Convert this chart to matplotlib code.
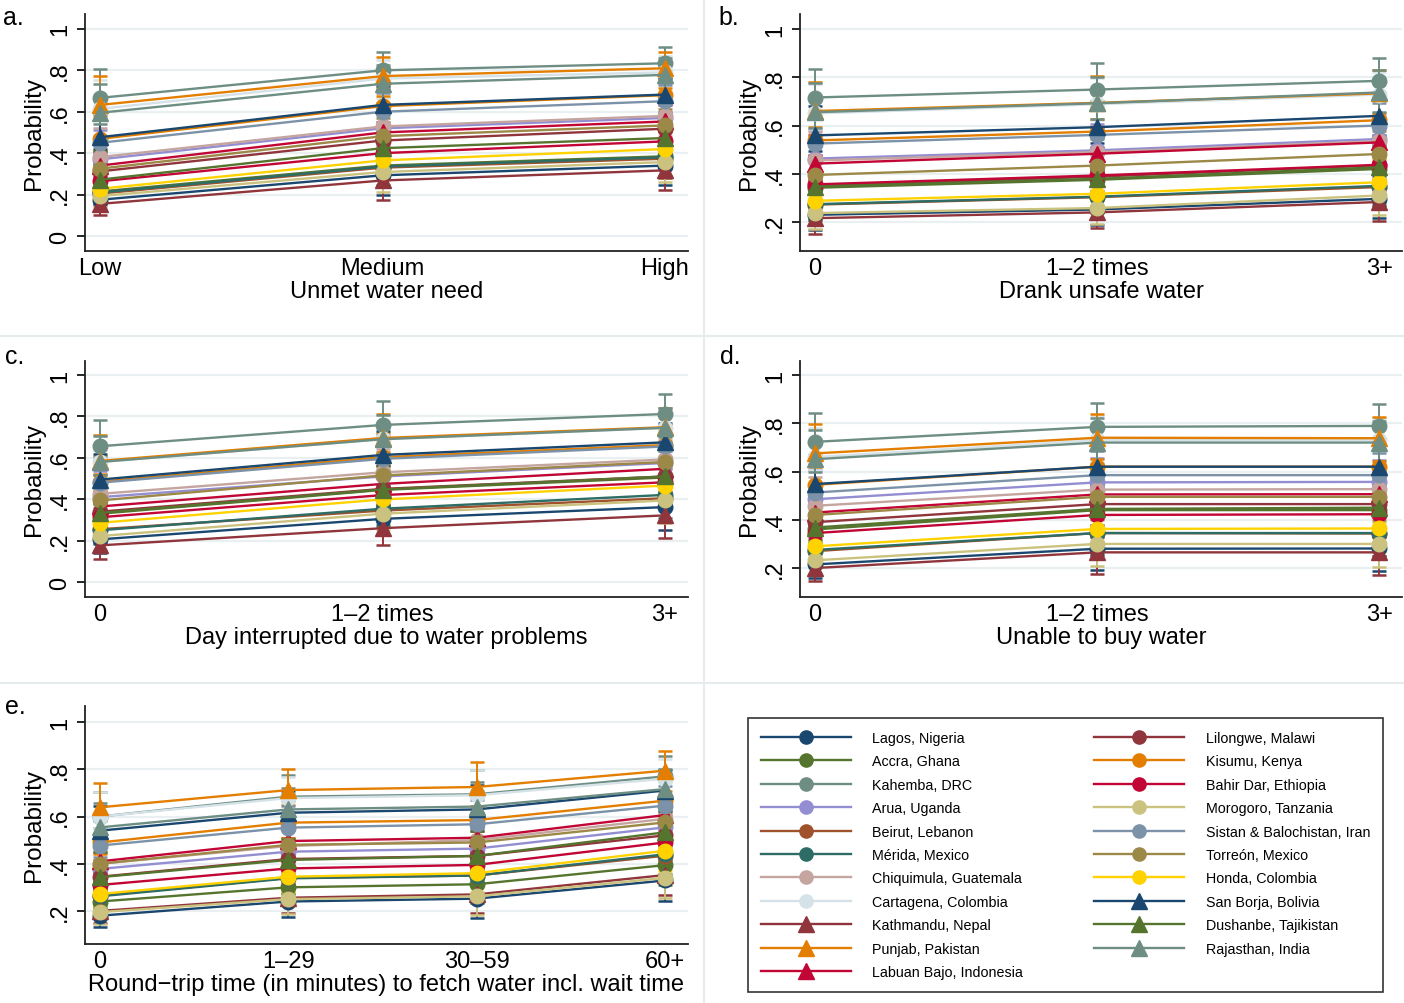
import matplotlib
matplotlib.use("Agg")
import matplotlib.pyplot as plt
from matplotlib.lines import Line2D
import numpy as np

plt.rcParams['font.family'] = ['Liberation Sans', 'DejaVu Sans']

# Sites (legend order, also drawing order)
sites = ["Lagos, Nigeria", "Accra, Ghana", "Kahemba, DRC", "Arua, Uganda",
         "Beirut, Lebanon", "Mérida, Mexico", "Chiquimula, Guatemala",
         "Cartagena, Colombia", "Kathmandu, Nepal", "Punjab, Pakistan",
         "Labuan Bajo, Indonesia", "Lilongwe, Malawi", "Kisumu, Kenya",
         "Bahir Dar, Ethiopia", "Morogoro, Tanzania", "Sistan & Balochistan, Iran",
         "Torreón, Mexico", "Honda, Colombia", "San Borja, Bolivia",
         "Dushanbe, Tajikistan", "Rajasthan, India"]
cores = ["#1a476f", "#55752f", "#6e8e84", "#938dd2", "#a0522d", "#2d6d66",
         "#c4a59f", "#d5e2e8", "#90353b", "#e37e00", "#c10534", "#90353b",
         "#e37e00", "#c10534", "#cac27e", "#7b92a8", "#9c8847", "#ffd200",
         "#1a476f", "#55752f", "#6e8e84"]
marcadores = ["o"] * 8 + ["^"] * 3 + ["o"] * 7 + ["^"] * 3

# Categorias de cada painel
cat_a = ["Low", "Medium", "High"]
cat_b = ["0", "1\u20132 times", "3+"]
cat_c = ["0", "1\u20132 times", "3+"]
cat_d = ["0", "1\u20132 times", "3+"]
cat_e = ["0", "1\u201329", "30\u201359", "60+"]

# Probabilidades previstas (linhas = sites)
prob_a = [[0.175, 0.293, 0.340], [0.215, 0.340, 0.385], [0.667, 0.800, 0.834],
          [0.370, 0.520, 0.570], [0.205, 0.330, 0.373], [0.210, 0.335, 0.380],
          [0.381, 0.529, 0.580], [0.614, 0.760, 0.790], [0.155, 0.268, 0.317],
          [0.633, 0.772, 0.810], [0.340, 0.500, 0.553], [0.312, 0.461, 0.518],
          [0.469, 0.627, 0.680], [0.264, 0.400, 0.457], [0.193, 0.309, 0.357],
          [0.450, 0.600, 0.651], [0.325, 0.482, 0.534], [0.228, 0.365, 0.420],
          [0.477, 0.633, 0.683], [0.272, 0.424, 0.473], [0.595, 0.735, 0.778]]
prob_b = [[0.230, 0.252, 0.296], [0.342, 0.375, 0.420], [0.716, 0.749, 0.785],
          [0.463, 0.497, 0.544], [0.272, 0.303, 0.345], [0.274, 0.305, 0.350],
          [0.455, 0.490, 0.535], [0.650, 0.688, 0.728], [0.216, 0.240, 0.283],
          [0.660, 0.694, 0.733], [0.442, 0.483, 0.530], [0.350, 0.388, 0.435],
          [0.538, 0.575, 0.622], [0.356, 0.393, 0.437], [0.237, 0.258, 0.310],
          [0.525, 0.561, 0.600], [0.395, 0.434, 0.482], [0.288, 0.317, 0.365],
          [0.559, 0.593, 0.640], [0.347, 0.379, 0.427], [0.655, 0.692, 0.737]]
prob_c = [[0.206, 0.305, 0.362], [0.330, 0.445, 0.505], [0.656, 0.759, 0.812],
          [0.410, 0.510, 0.575], [0.255, 0.345, 0.405], [0.250, 0.354, 0.421],
          [0.426, 0.530, 0.592], [0.580, 0.690, 0.745], [0.177, 0.260, 0.322],
          [0.585, 0.696, 0.748], [0.365, 0.474, 0.547], [0.340, 0.450, 0.510],
          [0.485, 0.603, 0.662], [0.313, 0.420, 0.482], [0.222, 0.330, 0.394],
          [0.480, 0.595, 0.655], [0.394, 0.515, 0.580], [0.286, 0.399, 0.466],
          [0.495, 0.614, 0.675], [0.334, 0.447, 0.510], [0.580, 0.690, 0.745]]
prob_d = [[0.215, 0.280, 0.281], [0.360, 0.440, 0.440], [0.723, 0.785, 0.789],
          [0.485, 0.555, 0.557], [0.270, 0.345, 0.343], [0.275, 0.345, 0.345],
          [0.458, 0.525, 0.527], [0.660, 0.730, 0.730], [0.200, 0.265, 0.265],
          [0.675, 0.740, 0.738], [0.430, 0.505, 0.506], [0.390, 0.465, 0.465],
          [0.545, 0.620, 0.620], [0.345, 0.420, 0.423], [0.232, 0.300, 0.300],
          [0.513, 0.585, 0.585], [0.420, 0.495, 0.495], [0.290, 0.362, 0.364],
          [0.548, 0.620, 0.620], [0.368, 0.445, 0.450], [0.651, 0.720, 0.720]]
prob_e = [[0.180, 0.240, 0.252, 0.329], [0.240, 0.300, 0.313, 0.394],
          [0.600, 0.684, 0.694, 0.770], [0.378, 0.451, 0.464, 0.554],
          [0.265, 0.340, 0.350, 0.434], [0.262, 0.338, 0.350, 0.440],
          [0.400, 0.475, 0.500, 0.590], [0.600, 0.678, 0.690, 0.760],
          [0.200, 0.256, 0.270, 0.352], [0.639, 0.712, 0.725, 0.794],
          [0.410, 0.496, 0.510, 0.606], [0.345, 0.420, 0.433, 0.520],
          [0.490, 0.574, 0.585, 0.667], [0.310, 0.380, 0.395, 0.490],
          [0.195, 0.250, 0.262, 0.340], [0.477, 0.553, 0.567, 0.646],
          [0.400, 0.480, 0.490, 0.575], [0.272, 0.345, 0.360, 0.455],
          [0.540, 0.616, 0.630, 0.710], [0.343, 0.416, 0.433, 0.533],
          [0.554, 0.630, 0.642, 0.716]]

# Semi-amplitude dos IC 95% por categoria (inferior, superior)
ic_inf_a = [0.055, 0.095, 0.095]
ic_sup_a = [0.140, 0.090, 0.080]
ic_inf_b = [0.065, 0.065, 0.080]
ic_sup_b = [0.120, 0.110, 0.095]
ic_inf_c = [0.065, 0.080, 0.110]
ic_sup_c = [0.125, 0.115, 0.095]
ic_inf_d = [0.055, 0.090, 0.095]
ic_sup_d = [0.120, 0.100, 0.090]
ic_inf_e = [0.050, 0.065, 0.080, 0.085]
ic_sup_e = [0.105, 0.090, 0.105, 0.085]

W, H = 1404, 1004
fig = plt.figure(figsize=(W / 100, H / 100), dpi=100)
fig.patch.set_facecolor("white")


def caixa(x0, y_top, x1, y_bot):
    return [x0 / W, 1 - y_bot / H, (x1 - x0) / W, (y_bot - y_top) / H]


paineis = [
    ("a.", cat_a, prob_a, ic_inf_a, ic_sup_a, "Unmet water need",
     caixa(85, 15, 688, 252), (-0.0725, 1.072), [0, .2, .4, .6, .8, 1], (3, 18)),
    ("b.", cat_b, prob_b, ic_inf_b, ic_sup_b, "Drank unsafe water",
     caixa(800, 15, 1402, 252), (0.08, 1.062), [.2, .4, .6, .8, 1], (718, 18)),
    ("c.", cat_c, prob_c, ic_inf_c, ic_sup_c, "Day interrupted due to water problems",
     caixa(85, 362, 688, 598), (-0.0725, 1.068), [0, .2, .4, .6, .8, 1], (5, 357)),
    ("d.", cat_d, prob_d, ic_inf_d, ic_sup_d, "Unable to buy water",
     caixa(800, 362, 1402, 598), (0.08, 1.058), [.2, .4, .6, .8, 1], (720, 357)),
    ("e.", cat_e, prob_e, ic_inf_e, ic_sup_e,
     "Round\u2212trip time (in minutes) to fetch water incl. wait time",
     caixa(85, 707, 688, 945), (0.06, 1.068), [.2, .4, .6, .8, 1], (5, 707)),
]


def rotulo(v):
    return "0" if v == 0 else ("1" if v == 1 else ("%.1f" % v).lstrip("0"))


for letra, cats, prob, ic_inf, ic_sup, xtitulo, pos, ylim, yt, lpos in paineis:
    ax = fig.add_axes(pos)
    n = len(cats)
    x = np.arange(n)
    for i in range(len(sites)):
        v = np.array(prob[i])
        ax.errorbar(x, v, yerr=[ic_inf[:n], ic_sup[:n]], fmt="none",
                    ecolor=cores[i], elinewidth=1.4, capsize=5, capthick=1.8,
                    zorder=2 + i * 0.01)
    for i in range(len(sites)):
        ms = 11.5 if marcadores[i] == "^" else 10.5
        ax.plot(x, prob[i], color=cores[i], lw=1.7, marker=marcadores[i],
                ms=ms, mec=cores[i], mfc=cores[i], zorder=3 + i * 0.01)
    step = 565 / (n - 1)
    ax.set_xlim(-15 / step, (n - 1) + 23 / step)
    ax.set_ylim(*ylim)
    ax.set_yticks(yt)
    ax.set_yticklabels([rotulo(t) for t in yt], rotation=90, va="center",
                       fontsize=17)
    ax.set_xticks(x)
    ax.set_xticklabels(cats, fontsize=17)
    ax.tick_params(axis="x", length=0, pad=4)
    ax.tick_params(axis="y", length=6, width=1.2, pad=4, colors="black")
    ax.grid(axis="y", color="#eaf0f2", lw=1.6, zorder=0)
    ax.set_axisbelow(True)
    for s in ["top", "right"]:
        ax.spines[s].set_visible(False)
    for s in ["left", "bottom"]:
        ax.spines[s].set_linewidth(1.3)
        ax.spines[s].set_color("#222222")
    ax.set_ylabel("Probability", fontsize=17.5, labelpad=3)
    ax.set_xlabel(xtitulo, fontsize=17, labelpad=1)
    fig.text(lpos[0] / W, 1 - lpos[1] / H, letra, fontsize=18, va="center",
             ha="left")

# Linhas de separação entre painéis
fig.add_artist(Line2D([704 / W, 704 / W], [0, 1], color="#e6ecee", lw=1.5))
fig.add_artist(Line2D([0, 1], [1 - 337 / H, 1 - 337 / H], color="#e6ecee", lw=1.5))
fig.add_artist(Line2D([0, 1], [1 - 684 / H, 1 - 684 / H], color="#e6ecee", lw=1.5))

# Legenda
handles = []
for i in range(len(sites)):
    ms = 11 if marcadores[i] == "^" else 9.5
    handles.append(Line2D([], [], color=cores[i], lw=1.7, marker=marcadores[i],
                          ms=ms, mfc=cores[i], mec=cores[i]))
leg = fig.legend(handles, sites, ncol=2, loc="center",
                 bbox_to_anchor=caixa(748, 715, 1383, 997), mode="expand",
                 fontsize=10.3, frameon=True, fancybox=False, edgecolor="black",
                 handlelength=6.3, handletextpad=1.5, labelspacing=0.66,
                 borderpad=0.9, borderaxespad=0)
leg.get_frame().set_linewidth(1.2)

fig.savefig("out.png", dpi=100, facecolor="white")
